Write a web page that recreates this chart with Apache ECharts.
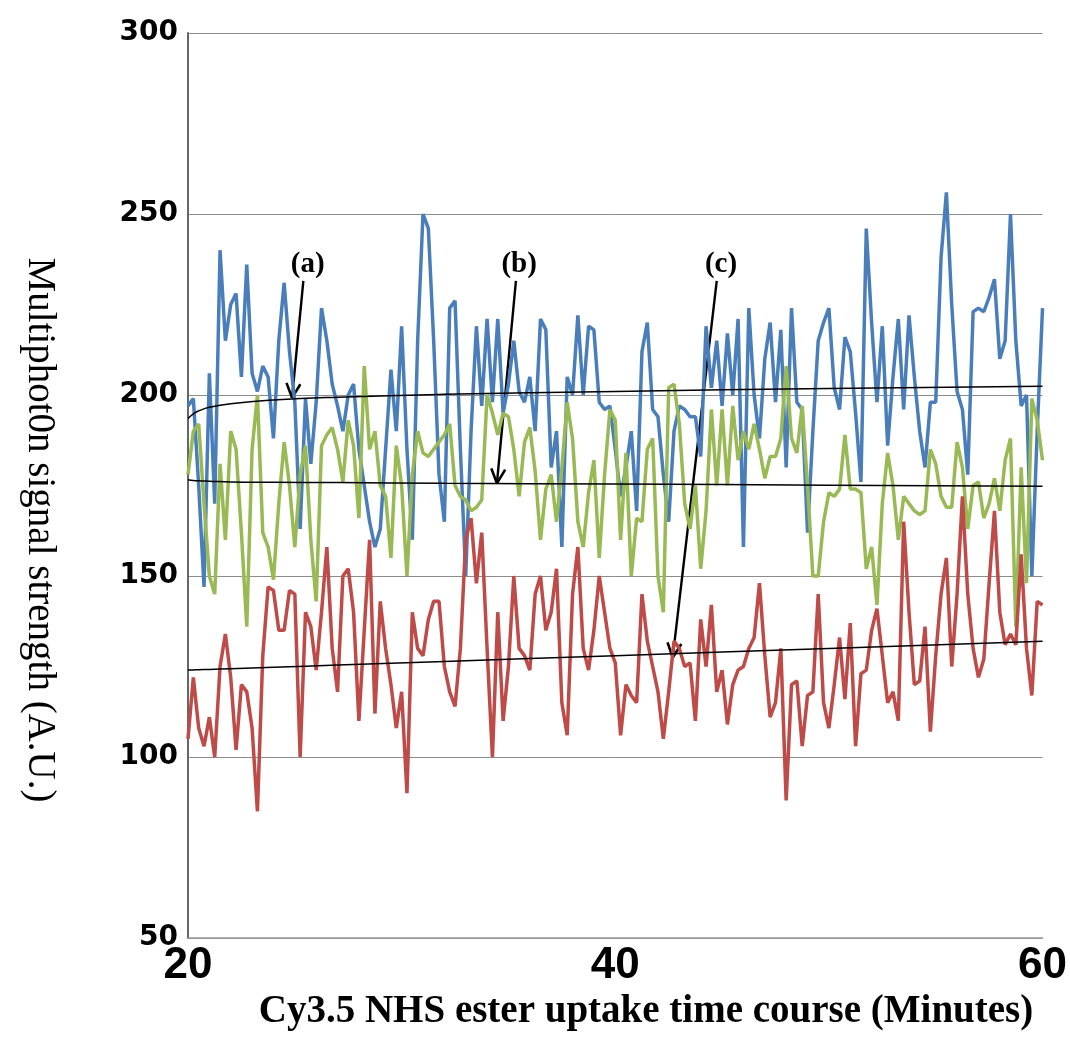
<!DOCTYPE html>
<html>
<head>
<meta charset="utf-8">
<script src="https://cdn.jsdelivr.net/npm/echarts@6/dist/echarts.min.js"></script>
<style>html,body{margin:0;padding:0;background:#fff}#c{width:1070px;height:1043px}</style>
</head>
<body>
<div id="c"></div>
<script>
// Time axis: 20 to 60 minutes, sampled every 0.25 min
const tStart = 20, tStep = 0.25;
const xTicks = [20, 40, 60];
const yTicks = [50, 100, 150, 200, 250, 300];

const blue = [197,199,175,147,206,170,240,215,225,228,205,236,206,201,208,205,188,215,231,212,198,163,199,181,198,224,
215,203,197,190,200,203,185,175,165,158,163,185,207,190,219,185,160,215,250,246,215,178,165,224,226,185,150,
190,219,197,221,198,221,195,203,215,201,198,205,190,221,218,180,190,158,205,200,222,200,219,218,198,196,
197,185,172,180,190,168,212,220,196,194,178,165,190,197,196,194,194,183,219,202,215,197,217,200,221,158,
224,200,188,210,220,198,218,180,224,198,196,162,190,215,220,224,202,196,216,212,195,176,246,220,198,219,186,
205,221,196,222,205,190,180,198,198,238,256,225,201,196,178,223,224,223,227,232,210,215,250,215,197,200,150,190,224];

const green = [178,190,192,170,150,145,181,160,190,185,162,136,185,200,162,158,149,170,187,175,158,178,186,160,143,186,
189,191,185,176,193,186,166,208,185,190,175,172,155,186,175,150,178,190,184,183,185,187,189,192,175,172,171,
168,169,171,200,195,189,195,194,185,172,187,191,179,160,174,178,165,180,198,188,165,158,173,182,155,178,
196,193,160,184,150,166,165,185,188,150,140,202,203,192,170,163,175,152,168,196,175,196,175,197,182,190,
185,192,185,177,183,183,188,208,188,184,197,175,150,150,165,173,172,174,189,174,174,173,152,158,142,170,184,
175,160,172,170,168,167,168,185,181,172,169,169,187,180,163,175,176,166,170,177,168,182,188,136,180,148,199,193,182];

const red = [105,122,108,103,111,100,125,134,122,102,120,118,108,85,128,147,146,135,135,146,145,100,140,136,124,140,
158,130,118,150,152,140,110,135,160,112,143,130,120,108,118,90,140,130,128,138,143,143,125,118,114,130,160,
166,148,162,130,100,140,110,125,150,130,128,124,145,150,135,140,152,115,106,145,158,130,124,135,150,140,
130,126,106,120,117,115,145,132,125,118,105,118,132,130,125,126,110,138,125,142,118,124,109,120,124,125,
130,133,148,128,111,115,130,88,120,121,103,117,118,145,115,108,120,133,116,137,103,123,124,135,141,128,115,
118,110,165,140,120,121,136,107,128,145,155,125,145,172,145,130,122,127,148,168,140,131,134,131,156,130,117,143,142];

// Trend lines (time, value)
const trendT = [20, 20.25, 20.5, 21, 22, 24, 27, 32, 40, 50, 60];
const trendA = [193.5, 194.8, 195.6, 196.6, 197.6, 198.6, 199.4, 200.2, 201.0, 201.8, 202.4];
const trendB = [176.6, 176.4, 176.3, 176.2, 176.0, 175.9, 175.8, 175.6, 175.4, 175.1, 174.8];
const trendC = [124.0, 124.05, 124.1, 124.2, 124.4, 124.8, 125.4, 126.4, 128.0, 130.0, 132.0];

// Annotation labels: label position and arrow (from -> to) in data coords
const annotations = [
  {text: '(a)', at: [25.6, 236], from: [25.4, 231.5], to: [24.87, 199.2]},
  {text: '(b)', at: [35.5, 236], from: [35.35, 231.5], to: [34.46, 175.6]},
  {text: '(c)', at: [44.95, 236], from: [44.75, 231.5], to: [42.69, 127.5]}
];

const times = blue.map((_, i) => tStart + i * tStep);
const pairs = arr => arr.map((v, i) => [times[i], v]);
const tpairs = arr => arr.map((v, i) => [trendT[i], v]);

const chart = echarts.init(document.getElementById('c'), null, {renderer: 'canvas'});
const lineSeries = (data, color) => ({
  type: 'line', data: pairs(data), showSymbol: false, symbol: 'none',
  lineStyle: {color, width: 3.5}, itemStyle: {color}, z: 2
});
const trendSeries = data => ({
  type: 'line', data: tpairs(data), showSymbol: false, symbol: 'none', smooth: true,
  lineStyle: {color: '#000', width: 1.5}, z: 5
});

chart.setOption({
  animation: false,
  backgroundColor: '#fff',
  grid: {left: 188, right: 27, top: 33, bottom: 105},
  xAxis: {
    type: 'value', min: 20, max: 60, interval: 20,
    axisLine: {show: true, lineStyle: {color: '#999', width: 1.5}},
    axisTick: {show: false},
    splitLine: {show: false},
    axisLabel: {
      margin: 6, color: '#000', fontSize: 44, fontWeight: 'bold',
      fontFamily: "'Liberation Sans Narrow', 'Liberation Sans', sans-serif",
      formatter: v => xTicks.includes(v) ? String(v) : ''
    }
  },
  yAxis: {
    type: 'value', min: 50, max: 300, interval: 50,
    axisLine: {show: true, lineStyle: {color: '#666', width: 2}},
    axisTick: {show: false},
    splitLine: {show: true, lineStyle: {color: '#8c8c8c', width: 1}},
    axisLabel: {
      margin: 10, color: '#000', fontSize: 28, fontWeight: 'bold',
      fontFamily: "'DejaVu Sans', sans-serif",
      formatter: v => yTicks.includes(v) ? String(v) : ''
    }
  },
  series: [
    lineSeries(blue, '#4a7ebb'),
    lineSeries(green, '#98b954'),
    lineSeries(red, '#be4b48'),
    trendSeries(trendA),
    trendSeries(trendB),
    trendSeries(trendC)
  ]
});

const g = [];
g.push({
  type: 'text', x: 39, y: 530, rotation: -Math.PI / 2,
  style: {text: 'Multiphot0n signal strength (A.U.)', fill: '#000', font: "39px 'Liberation Serif', serif",
          textAlign: 'center', textVerticalAlign: 'middle'}
});
g.push({
  type: 'text', x: 646, y: 1012,
  style: {text: 'Cy3.5 NHS ester uptake time course (Minutes)', fill: '#000', font: "bold 39px 'Liberation Serif', serif",
          textAlign: 'center', textVerticalAlign: 'middle'}
});
annotations.forEach(a => {
  const p = chart.convertToPixel({gridIndex: 0}, a.at);
  const f = chart.convertToPixel({gridIndex: 0}, a.from);
  const t = chart.convertToPixel({gridIndex: 0}, a.to);
  g.push({type: 'text', x: p[0], y: p[1],
    style: {text: a.text, fill: '#000', font: "bold 29px 'Liberation Serif', serif", textAlign: 'center', textVerticalAlign: 'middle'}});
  g.push({type: 'line', shape: {x1: f[0], y1: f[1], x2: t[0], y2: t[1]}, style: {stroke: '#000', lineWidth: 2.4}});
  const ang = Math.atan2(t[1] - f[1], t[0] - f[0]);
  const L = 16, spread = 0.45;
  [ang + Math.PI - spread, ang + Math.PI + spread].forEach(b => {
    g.push({type: 'line', shape: {x1: t[0], y1: t[1], x2: t[0] + L * Math.cos(b), y2: t[1] + L * Math.sin(b)},
      style: {stroke: '#000', lineWidth: 2.6}});
  });
});
chart.setOption({graphic: g});
</script>
</body>
</html>
